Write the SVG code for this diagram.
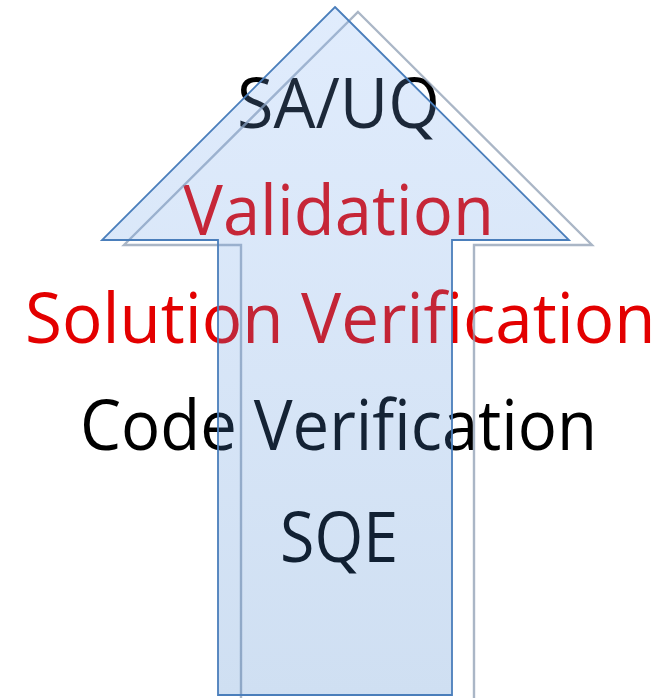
<svg xmlns="http://www.w3.org/2000/svg" width="666" height="698" viewBox="0 0 666 698">
<style>
.t{font-family:"Open Sans","Noto Sans","Liberation Sans",sans-serif;font-size:70px}
.red{fill:#e30000}
.blk{fill:#000}
</style>
<defs>
<linearGradient id="fillg" x1="0" y1="0" x2="0" y2="1">
<stop offset="0" stop-color="#7fb0f5" stop-opacity="0.24"/>
<stop offset="1" stop-color="#377ac9" stop-opacity="0.24"/>
</linearGradient>
</defs>
<rect width="666" height="698" fill="#fff"/>
<g id="labels">
<text id="sauq" class="t blk" x="237" y="128" textLength="203" lengthAdjust="spacingAndGlyphs">SA/UQ</text>
<text id="validation" class="t red" x="183" y="235" textLength="311" lengthAdjust="spacingAndGlyphs">Validation</text>
<text id="solution" class="t red" transform="translate(25,343) scale(0.962,1)" x="0" y="0">Solution Verification</text>
<text id="code" class="t blk" x="80" y="450" textLength="517" lengthAdjust="spacingAndGlyphs">Code Verification</text>
<text id="sqe" class="t blk" x="280" y="562" textLength="118" lengthAdjust="spacingAndGlyphs">SQE</text>
</g>
<g id="arrow-shadow">
<polygon points="358,12 592,245 474,245 474,704 241,704 241,245 124,245" fill="none" stroke="#8d9db3" stroke-opacity="0.75" stroke-width="2.4"/>
</g>
<g id="arrow">
<polygon points="335,7 569,240 452,240 452,695 218,695 218,240 102,240" fill="url(#fillg)" stroke="#4a7ebb" stroke-width="1.8"/>
</g>
</svg>
